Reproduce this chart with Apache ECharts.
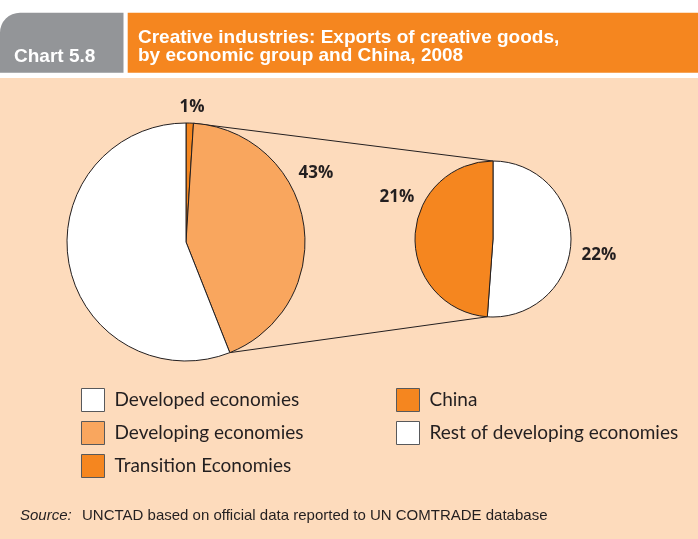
<!DOCTYPE html>
<html>
<head>
<meta charset="utf-8">
<script src="https://cdn.jsdelivr.net/npm/echarts@6.0.0/dist/echarts.min.js"></script>
<style>
html,body{margin:0;padding:0;background:#fff;}
#chart{width:698px;height:539px;}
</style>
</head>
<body>
<div id="chart"></div>
<script>
// ---- data ----
const leftNames = ['Transition Economies', 'Developing economies', 'Developed economies'];
const leftValues = [1, 43, 56];
const rightNames = ['Rest of developing economies', 'China'];
const rightValues = [22, 21];
const leftLegendOrder = ['Developed economies', 'Developing economies', 'Transition Economies'];
const rightLegendOrder = ['China', 'Rest of developing economies'];

// ---- layout / style ----
const LEFT_C = [186, 242], LEFT_R = 119;
const RIGHT_C = [493, 239], RIGHT_R = 78;
const LEFT_COLORS = ['#F5861F', '#F9A65E', '#FFFFFF'];
const RIGHT_COLORS = ['#FFFFFF', '#F5861F'];
const LEFT_LABEL_POS = [[192, 107], [316, 173], [40, 258]];
const RIGHT_LABEL_POS = [[599, 255], [397, 197]];
const INK = '#231F20';
const PEACH = '#FDDBBC';

function sum(a) { return a.reduce((s, v) => s + v, 0); }
function pt(c, r, deg) {
  const a = deg * Math.PI / 180;
  return [c[0] + r * Math.sin(a), c[1] - r * Math.cos(a)];
}
const lTot = sum(leftValues);
const devStart = 360 * leftValues[0] / lTot;
const devEnd = 360 * (leftValues[0] + leftValues[1]) / lTot;
const rTot = sum(rightValues);
const rDiv = 360 * rightValues[0] / rTot;
const p1 = pt(LEFT_C, LEFT_R, devStart), q1 = pt(RIGHT_C, RIGHT_R, 0);
const p2 = pt(LEFT_C, LEFT_R, devEnd), q2 = pt(RIGHT_C, RIGHT_R, rDiv);

function mkData(names, values, colors) {
  return names.map((n, i) => ({ name: n, value: values[i], itemStyle: { color: colors[i] } }));
}
function mkLayout(pos) {
  return function (params) {
    const p = pos[params.dataIndex];
    return { x: p[0], y: p[1], align: 'center', verticalAlign: 'middle' };
  };
}

const labelStyle = {
  show: true, formatter: '{c}%', color: INK, fontFamily: '"Open Sans"', fontWeight: 'bold', fontSize: 17
};
const legendBase = {
  orient: 'vertical', top: 388, padding: 0, itemWidth: 23, itemHeight: 23, itemGap: 9,
  icon: 'rect', selectedMode: false,
  itemStyle: { borderColor: '#58595B', borderWidth: 1 },
  textStyle: { color: INK, fontFamily: 'Lato', fontSize: 19, lineHeight: 23, padding: [0, 0, 0, 5] }
};

const chart = echarts.init(document.getElementById('chart'));
chart.setOption({
  animation: false,
  backgroundColor: 'transparent',
  legend: [
    Object.assign({}, legendBase, { left: 81, data: leftLegendOrder }),
    Object.assign({}, legendBase, { left: 396, data: rightLegendOrder })
  ],
  graphic: [
    { type: 'rect', z: -100, shape: { x: 0, y: 78, width: 698, height: 461 }, style: { fill: PEACH } },
    { type: 'rect', shape: { x: 0, y: 12.7, width: 123.5, height: 60, r: [20, 0, 0, 0] }, style: { fill: '#939598' } },
    { type: 'rect', shape: { x: 127.7, y: 12.7, width: 580, height: 60, r: [0, 6, 0, 0] }, style: { fill: '#F5861F' } },
    { type: 'text', x: 14, y: 57, style: { text: 'Chart 5.8', fill: '#fff', font: 'bold 19px "Liberation Sans", Arial', verticalAlign: 'middle' } },
    { type: 'text', x: 138, y: 37.5, style: { text: 'Creative industries: Exports of creative goods,', fill: '#fff', font: 'bold 19px "Liberation Sans", Arial', verticalAlign: 'middle' } },
    { type: 'text', x: 138, y: 55.5, style: { text: 'by economic group and China, 2008', fill: '#fff', font: 'bold 19px "Liberation Sans", Arial', verticalAlign: 'middle' } },
    { type: 'line', z: 1, shape: { x1: p1[0], y1: p1[1], x2: q1[0], y2: q1[1] }, style: { stroke: INK, lineWidth: 1 } },
    { type: 'line', z: 1, shape: { x1: p2[0], y1: p2[1], x2: q2[0], y2: q2[1] }, style: { stroke: INK, lineWidth: 1 } },
    { type: 'text', x: 20, y: 516, style: { text: 'Source:', fill: INK, font: 'italic 15px "Liberation Sans", Arial', verticalAlign: 'middle' } },
    { type: 'text', x: 82, y: 516, style: { text: 'UNCTAD based on official data reported to UN COMTRADE database', fill: INK, font: '15px "Liberation Sans", Arial', verticalAlign: 'middle' } }
  ],
  series: [
    {
      type: 'pie', silent: true, center: LEFT_C, radius: LEFT_R, startAngle: 90, clockwise: true,
      itemStyle: { borderColor: INK, borderWidth: 1 },
      label: labelStyle, labelLine: { show: false },
      labelLayout: mkLayout(LEFT_LABEL_POS),
      data: mkData(leftNames, leftValues, LEFT_COLORS)
    },
    {
      type: 'pie', silent: true, center: RIGHT_C, radius: RIGHT_R, startAngle: 90, clockwise: true,
      itemStyle: { borderColor: INK, borderWidth: 1 },
      label: labelStyle, labelLine: { show: false },
      labelLayout: mkLayout(RIGHT_LABEL_POS),
      data: mkData(rightNames, rightValues, RIGHT_COLORS)
    }
  ]
});
</script>
</body>
</html>
